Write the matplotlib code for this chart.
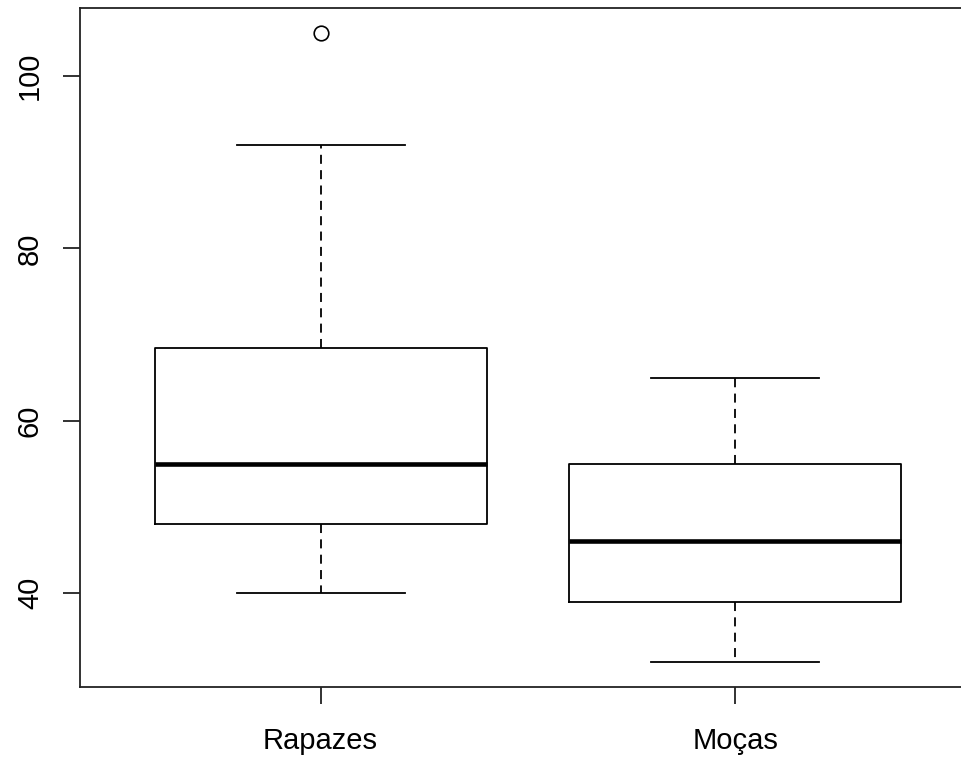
import matplotlib
matplotlib.use("Agg")
import matplotlib.pyplot as plt

# Werte
grupos = ["Rapazes", "Moças"]
minimo = [40, 32]
q1 = [48, 39]
mediana = [55, 46]
q3 = [68.5, 55]
maximo = [92, 65]
outliers = [[105], []]

plt.rcParams['font.family'] = ['Liberation Sans', 'DejaVu Sans']

fig = plt.figure(figsize=(9.61, 7.59), dpi=100)
ax = fig.add_axes([80 / 961, 72 / 759, 896 / 961, 679 / 759])

stats = []
for i in range(len(grupos)):
    stats.append({
        'label': grupos[i],
        'whislo': minimo[i], 'q1': q1[i], 'med': mediana[i],
        'q3': q3[i], 'whishi': maximo[i], 'fliers': outliers[i],
    })

lw = 1.3
ax.bxp(stats, positions=[1, 2], widths=0.8, capwidths=0.405,
       boxprops=dict(color='black', linewidth=lw),
       medianprops=dict(color='black', linewidth=3.3, solid_capstyle='butt'),
       whiskerprops=dict(color='black', linewidth=lw, linestyle=(0, (5, 3.5))),
       capprops=dict(color='black', linewidth=lw),
       flierprops=dict(marker='o', markersize=10.5, markerfacecolor='none',
                       markeredgecolor='black', markeredgewidth=1.2))

ax.set_xlim(0.42, 2.58)
ax.set_ylim(29.08, 107.92)
ax.set_yticks([40, 60, 80, 100])
ax.set_yticklabels(['40', '60', '80', '100'], rotation=90, va='center')

for s in ax.spines.values():
    s.set_linewidth(lw)
    s.set_color('#222222')

ax.tick_params(axis='both', length=12, width=lw, labelsize=21, color='#222222')
ax.tick_params(axis='y', pad=14)
ax.tick_params(axis='x', pad=17)

fig.savefig('out.png', dpi=100)
